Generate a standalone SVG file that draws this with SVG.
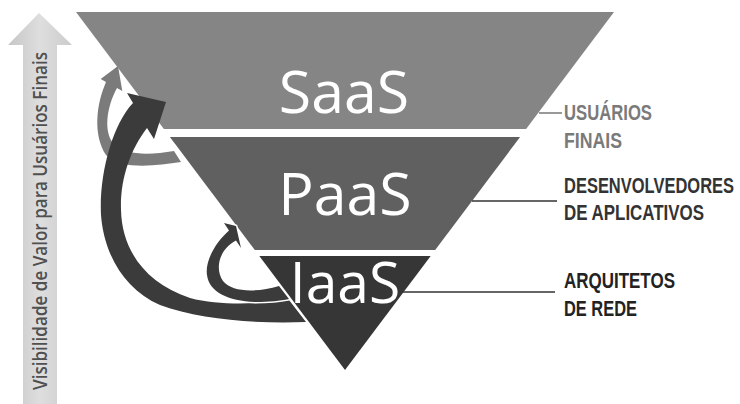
<svg xmlns="http://www.w3.org/2000/svg" width="740" height="404" viewBox="0 0 740 404">
  <style>
    .big { font-family: "Open Sans", "Noto Sans", "Liberation Sans", sans-serif; fill: #ffffff; text-anchor: middle; }
    .role { font-family: "Liberation Sans", "DejaVu Sans", sans-serif; font-weight: bold; font-size: 22.5px; }
    .lead { stroke-width: 1.6; fill: none; }
    .axis-text { font-family: "Open Sans", "Noto Sans", "Liberation Sans", sans-serif; font-weight: 600; font-size: 20px; fill: #505050; text-anchor: middle; }
  </style>
  <defs>
    <linearGradient id="axisGrad" x1="0" y1="0" x2="1" y2="0">
      <stop offset="0" stop-color="#c6c6c6"/>
      <stop offset="0.5" stop-color="#dedede"/>
      <stop offset="1" stop-color="#cbcbcb"/>
    </linearGradient>
  </defs>
  <rect width="740" height="404" fill="#ffffff"/>

  <g id="axis">
    <polygon points="39,13 72,45 57,45 57,404 23,404 23,45 8,45" fill="url(#axisGrad)"/>
    <text class="axis-text" transform="translate(47,221) rotate(-90) scale(0.85,1)" x="0" y="0" textLength="397.6" lengthAdjust="spacingAndGlyphs">Visibilidade de Valor para Usuários Finais</text>
  </g>

  <g id="connectors-back">
    <path id="arrow-paas-saas" fill="#7b7b7b" d="M 174,151 C 150,155 125,156 113,143 C 104,132 106,108 117,88 L 122.3,90.9 L 118,66 L 100.7,79.1 L 106,82 C 96,105 93,135 106,155 C 120,170 155,166 181,162 Z"/>
  </g>

  <g id="saas">
    <polygon points="76,12 614,12 526.1,129 163.9,129" fill="#858585"/>
    <text class="big" x="344" y="113" font-size="59">SaaS</text>
  </g>
  <g id="paas">
    <polygon points="169.9,137 520.1,137 435.2,250 254.8,250" fill="#606060"/>
    <text class="big" x="345" y="215" font-size="59">PaaS</text>
  </g>
  <g id="iaas">
    <polygon points="259.3,256 430.7,256 345,370" fill="#363636"/>
    <text class="big" x="345" y="303" font-size="57">IaaS</text>
  </g>

  <g id="connectors">
    <path id="arrow-iaas-saas" fill="#3b3b3b" d="M 306,322 C 260,324 200,320 160,305 C 125,290 104,255 101,215 C 99,175 112,125 133,103 L 127,93 L 166,102 L 154,139 L 147,128 C 130,150 120,180 121,210 C 122,250 145,283 190,298 C 220,306 260,304 289,300 Z"/>
    <path id="arrow-iaas-paas" fill="#3b3b3b" stroke="#ffffff" stroke-width="3" paint-order="stroke" stroke-linejoin="round" d="M 279,286 C 255,293 232,292 223,281 C 215,270 218,250 236,240.5 L 241,248 L 236,226 L 224,223 L 229,230.5 C 214,244 205,262 207,275 C 209,292 228,301 255,302 C 270,302 280,301 289,299 Z"/>
    <line class="lead" x1="539" y1="113" x2="562" y2="113" stroke="#808080"/>
    <line class="lead" x1="472" y1="201" x2="557" y2="201" stroke="#333333"/>
    <line class="lead" x1="403" y1="292" x2="555" y2="292" stroke="#333333"/>
  </g>

  <g id="label-usuarios" fill="#7a7a7a">
    <text class="role" transform="translate(564,119.5) scale(0.73,1)" textLength="120.5" lengthAdjust="spacingAndGlyphs">USUÁRIOS</text>
    <text class="role" transform="translate(564,148) scale(0.73,1)" textLength="79.5" lengthAdjust="spacingAndGlyphs">FINAIS</text>
  </g>
  <g id="label-desenvolvedores" fill="#333333">
    <text class="role" transform="translate(564,193) scale(0.73,1)" textLength="232.9" lengthAdjust="spacingAndGlyphs">DESENVOLVEDORES</text>
    <text class="role" transform="translate(564,220) scale(0.73,1)" textLength="191.8" lengthAdjust="spacingAndGlyphs">DE APLICATIVOS</text>
  </g>
  <g id="label-arquitetos" fill="#222222">
    <text class="role" transform="translate(564,288) scale(0.73,1)" textLength="152" lengthAdjust="spacingAndGlyphs">ARQUITETOS</text>
    <text class="role" transform="translate(564,316) scale(0.73,1)" textLength="100" lengthAdjust="spacingAndGlyphs">DE REDE</text>
  </g>
</svg>
